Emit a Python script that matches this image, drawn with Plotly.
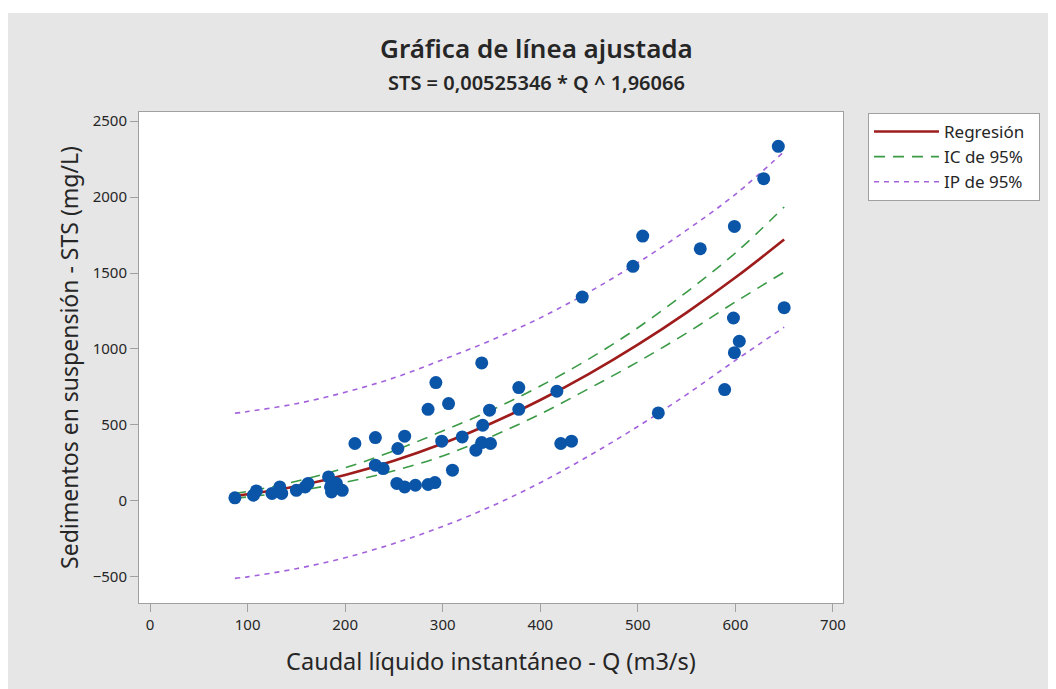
import plotly.graph_objects as go

caudal = [87, 106, 109, 125, 133, 135, 150, 159, 162, 183, 185, 186, 191, 197,
          210, 231, 231, 239, 253, 261, 261, 254, 272, 285, 292, 285, 293, 306,
          299, 310, 320, 334, 340, 341, 340, 348, 349, 378, 378, 417, 421, 432,
          443, 495, 505, 564, 599, 598, 604, 599, 589, 521, 650, 644, 629]
sts = [20, 38, 66, 49, 92, 49, 70, 92, 115, 158, 92, 59, 115, 70,
       378, 417, 235, 213, 115, 92, 426, 345, 103, 108, 121, 603, 779, 641,
       393, 202, 421, 334, 384, 498, 908, 597, 378, 746, 603, 722, 378, 393,
       1342, 1544, 1743, 1660, 1807, 1204, 1051, 976, 733, 579, 1272, 2334, 2121]

# fitted curve and bands sampled along Q
q_grid = [87, 100, 150, 200, 250, 300, 350, 400, 450, 500, 550, 600, 650]
fit = [33.4, 43.9, 97.1, 170.6, 264.3, 377.8, 511.1, 664.1, 836.5, 1028.5, 1239.8, 1470.3, 1720.5]
ci_upper = [50, 62, 129, 218, 330, 460, 598, 756, 935, 1140, 1375, 1632, 1935]
ci_lower = [17, 26, 65, 123, 198, 296, 424, 572, 740, 915, 1105, 1310, 1506]
pi_upper = [577, 588, 640, 715, 810, 930, 1058, 1205, 1375, 1568, 1782, 2018, 2300]
pi_lower = [-510, -500, -446, -374, -280, -168, -35, 120, 297, 490, 700, 925, 1143]

x_ticks = [0, 100, 200, 300, 400, 500, 600, 700]
y_ticks = [-500, 0, 500, 1000, 1500, 2000, 2500]

red = '#9e1c1c'
green = '#3a9a46'
purple = '#a362dc'
blue = '#0b55a8'
txt = '#262626'
font = 'Noto Sans'
pad = '\u00a0\u00a0'  # a bit of room on the right of the legend text

fig = go.Figure()

# bands first so points sit on top
fig.add_trace(go.Scatter(x=q_grid, y=pi_upper, mode='lines', name='IP de 95%' + pad,
                         line=dict(color=purple, width=1.6, dash='5px,5px', shape='spline'),
                         legendrank=3))
fig.add_trace(go.Scatter(x=q_grid, y=pi_lower, mode='lines', showlegend=False,
                         line=dict(color=purple, width=1.6, dash='5px,5px', shape='spline')))
fig.add_trace(go.Scatter(x=q_grid, y=ci_upper, mode='lines', name='IC de 95%' + pad,
                         line=dict(color=green, width=1.6, dash='11px,8px', shape='spline'),
                         legendrank=2))
fig.add_trace(go.Scatter(x=q_grid, y=ci_lower, mode='lines', showlegend=False,
                         line=dict(color=green, width=1.6, dash='11px,8px', shape='spline')))
fig.add_trace(go.Scatter(x=q_grid, y=fit, mode='lines', name='Regresión' + pad,
                         line=dict(color=red, width=2.6, shape='spline'),
                         legendrank=1))
fig.add_trace(go.Scatter(x=caudal, y=sts, mode='markers', showlegend=False,
                         marker=dict(color=blue, size=13, line=dict(width=0))))

axis_common = dict(showgrid=False, zeroline=False, showline=True, mirror=True,
                   linecolor='#a0a0a0', linewidth=1, ticks='outside', ticklen=8,
                   tickcolor='#a0a0a0', tickfont=dict(family=font, size=15, color=txt))

fig.update_xaxes(range=[-11.3, 710.3], tickvals=x_ticks, **axis_common,
                 title=dict(text='Caudal líquido instantáneo - Q (m3/s)',
                            font=dict(family=font, size=23.5, color=txt), standoff=20))
fig.update_yaxes(range=[-672, 2560], tickvals=y_ticks, **axis_common,
                 title=dict(text='Sedimentos en suspensión - STS (mg/L)',
                            font=dict(family=font, size=23, color=txt), standoff=7))

fig.update_layout(
    width=1056, height=689,
    margin=dict(l=131, r=221, t=104, b=94),
    paper_bgcolor='#e6e6e6', plot_bgcolor='white',
    font=dict(family=font, color=txt),
    legend=dict(x=1.0355, y=0.998, xanchor='left', yanchor='top',
                bgcolor='white', bordercolor='#a0a0a0', borderwidth=1,
                font=dict(family=font, size=17, color=txt), traceorder='normal',
                itemwidth=65),
    annotations=[
        dict(text='Gráfica de línea ajustada', xref='paper', yref='paper',
             x=0.565, y=1.13, showarrow=False, xanchor='center', yanchor='middle',
             font=dict(family=font, size=26, color=txt, weight=600)),
        dict(text='STS = 0,00525346 * Q ^ 1,96066', xref='paper', yref='paper',
             x=0.565, y=1.061, showarrow=False, xanchor='center', yanchor='middle',
             font=dict(family=font, size=20, color=txt, weight=600)),
    ],
    shapes=[
        # thin white strip above the grey chart panel
        dict(type='rect', xref='paper', yref='paper', x0=-0.25, x1=1.35,
             y0=1.2016, y1=1.23, fillcolor='white', line=dict(width=0), layer='below'),
    ],
)

fig.write_html("out.html")
